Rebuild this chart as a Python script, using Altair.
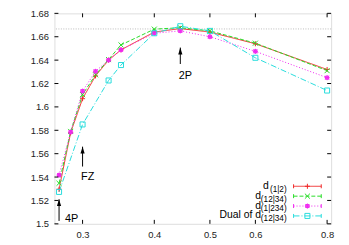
import altair as alt
import pandas as pd

# ---- data ----
x_main = [0.273, 0.286, 0.3, 0.316, 0.333, 0.35, 0.4, 0.444, 0.5, 0.6, 0.8]
y_d12 = [1.5296, 1.578, 1.607, 1.6265, 1.640, 1.6488, 1.664, 1.667, 1.664, 1.654, 1.632]
y_d1234 = [1.5347, 1.579, 1.6105, 1.6275, 1.6405, 1.653, 1.6665, 1.6677, 1.665, 1.6545, 1.631]
y_d1_234 = [1.5417, 1.5785, 1.6135, 1.6304, 1.640, 1.6488, 1.663, 1.665, 1.660, 1.6475, 1.625]
x_dual = [0.273, 0.3, 0.333, 0.35, 0.4, 0.444, 0.5, 0.6, 0.8]
y_dual = [1.5273, 1.585, 1.6226, 1.6358, 1.663, 1.669, 1.665, 1.642, 1.614]

series_names = ["d(1|2)", "d(12|34)", "d(1|234)", "Dual of d(12|34)"]
series_main = ["d", "d", "d", "Dual of d"]
series_sub = ["(1|2)", "(12|34)", "(1|234)", "(12|34)"]
colors = ["#f02828", "#28dc28", "#f028f0", "#28dcdc"]
dashes = [[1, 0], [4, 2], [1, 2], [6, 2, 1, 2]]
shapes = [
    "M-1,0L1,0M0,-1L0,1",
    "M-1,-1L1,1M-1,1L1,-1",
    "M-1,0L1,0M0,-1L0,1M-0.75,-0.75L0.75,0.75M-0.75,0.75L0.75,-0.75M-0.6,-0.6L0.6,-0.6L0.6,0.6L-0.6,0.6Z",
    "M-1,-1L1,-1L1,1L-1,1Z",
]

ref_level = [5 / 3]
y_ticks = [1.5, 1.52, 1.54, 1.56, 1.58, 1.6, 1.62, 1.64, 1.66, 1.68]
x_ticks = [0.3, 0.4, 0.5, 0.6, 0.8]

ann_label = ["4P", "FZ", "2P"]
ann_x = [0.273, 0.3, 0.444]
ann_y0 = [1.5025, 1.549, 1.6367]
ann_y1 = [1.521, 1.566, 1.6507]
ann_ty = [1.5042, 1.5397, 1.626]
ann_dx = [6, -1.5, -1.5]

rows = []
for xs, ys, name in [(x_main, y_d12, series_names[0]), (x_main, y_d1234, series_names[1]),
                     (x_main, y_d1_234, series_names[2]), (x_dual, y_dual, series_names[3])]:
    for xv, yv in zip(xs, ys):
        rows.append({"x": xv, "y": yv, "series": name})
df = pd.DataFrame(rows)

W, H = 280, 213
FONT = "Liberation Sans"

xscale = alt.Scale(type="log", domain=[0.268, 0.813], nice=False)
yscale = alt.Scale(domain=[1.5, 1.68], nice=False, zero=False)

xaxis = alt.Axis(values=x_ticks, format=".1f", ticks=False, tickSize=0, domain=False, grid=False,
                 labelPadding=6, labelFont=FONT, labelFontSize=9.5, labelColor="#222",
                 labelOverlap=False, labelFlush=False, title=None)
yaxis = alt.Axis(values=y_ticks, format=".3~f", ticks=False, tickSize=0, domain=False, grid=False,
                 labelPadding=6, labelFont=FONT, labelFontSize=9.5, labelColor="#222",
                 labelOverlap=False, labelFlush=False, title=None)


def X(field):
    return alt.X(field, scale=xscale, axis=xaxis)


def Y(field):
    return alt.Y(field, scale=yscale, axis=yaxis)


color_enc = alt.Color("series:N", scale=alt.Scale(domain=series_names, range=colors), legend=None)
dash_enc = alt.StrokeDash("series:N", scale=alt.Scale(domain=series_names, range=dashes), legend=None)
shape_enc = alt.Shape("series:N", scale=alt.Scale(domain=series_names, range=shapes), legend=None)

base = alt.Chart(df)
lines = base.mark_line(strokeWidth=1).encode(
    x=X("x:Q"), y=Y("y:Q"),
    color=color_enc, strokeDash=dash_enc,
    detail="series:N",
)
points = base.mark_point(filled=False, strokeWidth=1, size=26, opacity=1).encode(
    x=X("x:Q"), y=Y("y:Q"), color=color_enc, shape=shape_enc,
)

ref = alt.Chart(pd.DataFrame({"y": ref_level})).mark_rule(
    color="#bbbbbb", strokeDash=[1, 1.5], strokeWidth=1
).encode(y=Y("y:Q"))

yt = pd.DataFrame({"y": y_ticks})
xt = pd.DataFrame({"x": x_ticks})
tick_layers = [
    alt.Chart(yt).mark_rule(color="black", strokeWidth=1).encode(
        y=Y("y:Q"), x=alt.value(0), x2=alt.value(4)),
    alt.Chart(yt).mark_rule(color="black", strokeWidth=1).encode(
        y=Y("y:Q"), x=alt.value(W - 4), x2=alt.value(W)),
    alt.Chart(xt).mark_rule(color="black", strokeWidth=1).encode(
        x=X("x:Q"), y=alt.value(H - 4), y2=alt.value(H)),
    alt.Chart(xt).mark_rule(color="black", strokeWidth=1).encode(
        x=X("x:Q"), y=alt.value(0), y2=alt.value(4)),
]

ann = pd.DataFrame({"label": ann_label, "x": ann_x, "y0": ann_y0, "y1": ann_y1,
                    "ty": ann_ty, "dx": ann_dx})
arrow_shaft = alt.Chart(ann).mark_rule(color="black", strokeWidth=1).encode(
    x=X("x:Q"), y=Y("y0:Q"), y2="y1:Q")
arrow_head = alt.Chart(ann).mark_point(
    shape="M0,0L-0.7,2.3L0.7,2.3Z", filled=True, color="black", size=36, opacity=1
).encode(x=X("x:Q"), y=Y("y1:Q"))
ann_text_layers = []
for lab, xv, tyv, dxv in zip(ann_label, ann_x, ann_ty, ann_dx):
    ann_text_layers.append(
        alt.Chart(pd.DataFrame({"label": [lab], "x": [xv], "ty": [tyv]})).mark_text(
            align="left", baseline="middle", font=FONT, fontSize=11, color="black", dx=dxv
        ).encode(x=X("x:Q"), y=Y("ty:Q"), text="label:N")
    )

# ---- manual gnuplot-style key ----
key_layers = []
row_y = [175, 185, 195, 205]
sub_w = [18, 26, 26, 26]
key_df = pd.DataFrame({"k": [0]})
for i in range(4):
    ry = row_y[i]
    key_layers.append(alt.Chart(key_df).mark_text(
        align="right", baseline="alphabetic", font=FONT, fontSize=10.5, color="black"
    ).encode(x=alt.value(235 - sub_w[i]), y=alt.value(ry + 2.5), text=alt.value(series_main[i])))
    key_layers.append(alt.Chart(key_df).mark_text(
        align="right", baseline="alphabetic", font=FONT, fontSize=8.3, color="black"
    ).encode(x=alt.value(235), y=alt.value(ry + 5.5), text=alt.value(series_sub[i])))
    key_layers.append(alt.Chart(key_df).mark_rule(
        color=colors[i], strokeWidth=1, strokeDash=dashes[i]
    ).encode(x=alt.value(242), x2=alt.value(270), y=alt.value(ry)))
    for cx in (242, 270):
        key_layers.append(alt.Chart(key_df).mark_rule(color=colors[i], strokeWidth=1).encode(
            x=alt.value(cx), y=alt.value(ry - 2), y2=alt.value(ry + 2)))
    key_layers.append(alt.Chart(key_df).mark_point(
        filled=False, strokeWidth=1, size=26, opacity=1, color=colors[i], shape=shapes[i]
    ).encode(x=alt.value(256), y=alt.value(ry)))

chart = alt.layer(
    ref, lines, points, *tick_layers, arrow_shaft, arrow_head, *ann_text_layers, *key_layers
).properties(
    width=W, height=H, autosize="none",
    padding={"left": 47, "top": 4, "right": 10, "bottom": 20},
).configure_view(stroke="black", strokeWidth=1).configure_axis(
    labelOverlap=False
).configure(background="white")

chart.save("out.html", embed_options={"renderer": "svg", "actions": False})
